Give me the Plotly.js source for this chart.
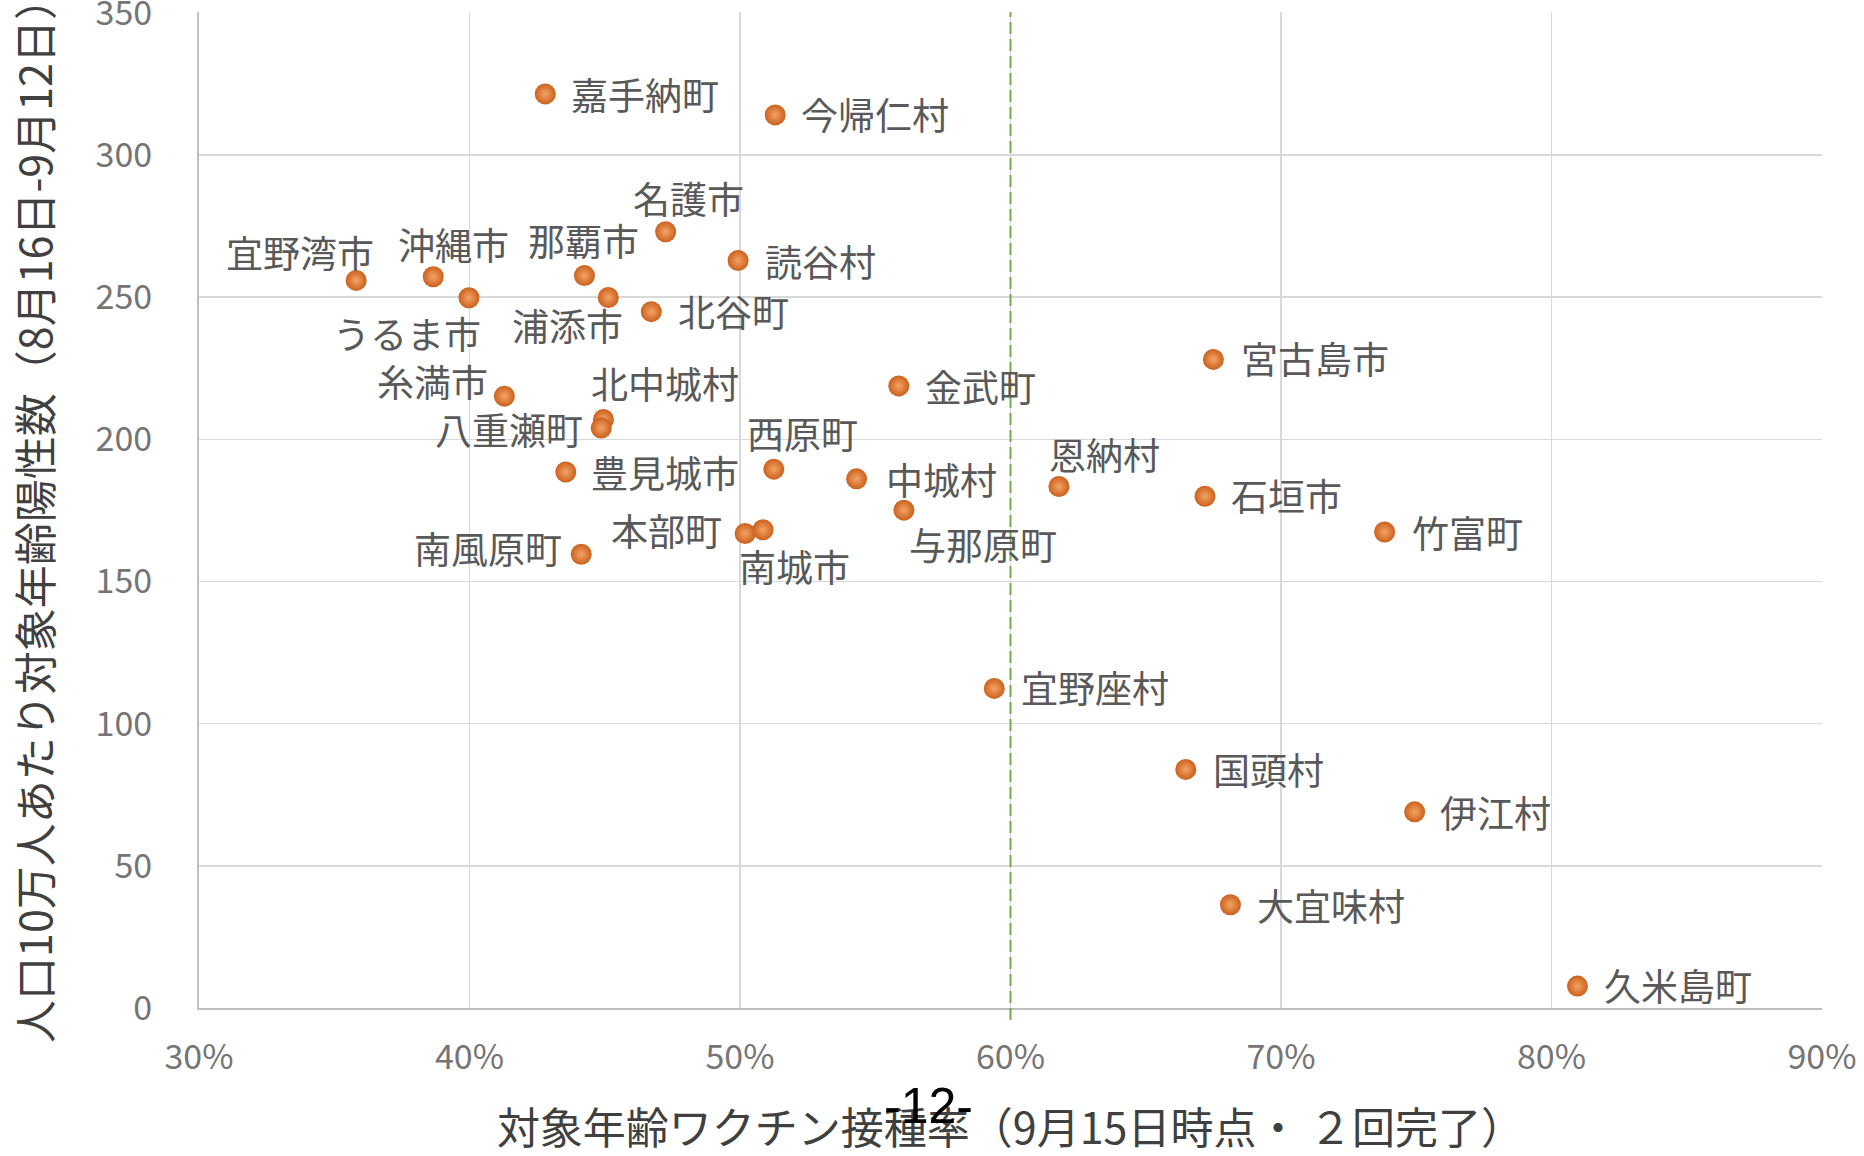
<!DOCTYPE html>
<html>
<head>
<meta charset="utf-8">
<script src="https://cdn.plot.ly/plotly-3.0.1.min.js"></script>
<style>
html,body{margin:0;padding:0;background:#fff;}
#chart{width:1864px;height:1156px;}
</style>
</head>
<body>
<div id="chart"></div>
<script>
// ---- data ----
const municipalities = ['嘉手納町','今帰仁村','名護市','読谷村','宜野湾市','沖縄市','うるま市','那覇市','浦添市','北谷町',
  '糸満市','北中城村','八重瀬町','金武町','宮古島市','豊見城市','西原町','中城村','恩納村','石垣市',
  '与那原町','竹富町','本部町','南城市','南風原町','宜野座村','国頭村','伊江村','大宜味村','久米島町'];
const vaccinationRate = [0.428,0.513,0.4725,0.4993,0.3581,0.3866,0.3998,0.4425,0.4513,0.4672,
  0.4129,0.4495,0.4487,0.5587,0.675,0.4356,0.5125,0.5431,0.6179,0.6719,
  0.5606,0.7383,0.5019,0.5085,0.4413,0.594,0.6648,0.7494,0.6813,0.8096];
const positivesPer100k = [321.5,314.1,273.0,262.9,255.9,257.2,249.8,257.6,249.9,244.9,
  215.2,207.0,204.0,218.8,228.1,188.5,189.5,186.1,183.4,180.0,
  175.1,167.4,166.9,168.2,159.6,112.4,83.9,69.0,36.3,7.7];
const xTickValues = [0.3,0.4,0.5,0.6,0.7,0.8,0.9];
const yTickValues = [0,50,100,150,200,250,300,350];
const targetRate = 0.6;
const xTitle = '対象年齢ワクチン接種率（9月15日時点・ ２回完了）';
const yTitle = '人口10万人あたり対象年齢陽性数（8月16日-9月12日）';
const pageMark = '-12-';

// ---- label placement (style: anchor side and pixel offsets from marker) ----
const labelPlacement = [
  ['R',24,0],['R',24,-1],['C',23,-34],['R',25,0],['C',-56,-28],['C',20,-33],['C',-62,35],['C',-1,-36],['C',-41,28],['R',25,-1],
  ['L',-14,-15],['C',62,-36],['L',-16,1],['R',24,0],['R',26,-1],['R',23,0],['C',29,-36],['R',27,0],['C',46,-33],['R',24,-1],
  ['C',79,34],['R',25,0],['L',-21,-3],['C',32,36],['L',-17,-6],['R',25,-1],['R',25,0],['R',23,0],['R',25,0],['R',25,-1]
];

const labelFont = {family:'Noto Sans CJK JP', size:37, color:'#595959'};

const annotations = municipalities.map((name,i)=>{
  const p = labelPlacement[i];
  return {
    x: vaccinationRate[i], y: positivesPer100k[i], xref:'x', yref:'y',
    text: name, showarrow:false,
    xanchor: p[0]==='R' ? 'left' : (p[0]==='L' ? 'right' : 'center'),
    yanchor: 'middle',
    xshift: p[1], yshift: -p[2],
    font: labelFont
  };
});
annotations.push({
  xref:'paper', yref:'paper', x:0.5, y:0, xanchor:'center', yanchor:'middle',
  xshift: 928 - (199 + 1623/2), yshift: -(1106 - 1008),
  text: pageMark, showarrow:false,
  font:{family:'Liberation Sans Narrow, Liberation Sans, Arial', size:50, color:'#000000'}
});

const trace = {
  type:'scatter', mode:'markers',
  x: vaccinationRate, y: positivesPer100k, text: municipalities,
  marker:{
    size:21, color:'#CC601C',
    gradient:{type:'radial', color:'#F3A466'},
    line:{width:0}
  },
  hoverinfo:'text+x+y',
  cliponaxis:false
};

const layout = {
  width:1864, height:1156,
  margin:{l:199, r:42, t:12, b:148},
  paper_bgcolor:'#ffffff', plot_bgcolor:'#ffffff',
  showlegend:false,
  font:{family:'Noto Sans CJK JP', color:'#595959'},
  xaxis:{
    range:[0.3,0.9], tickvals:xTickValues, tickformat:'.0%',
    showgrid:true, gridcolor:'#D9D9D9', gridwidth:1.5,
    showline:true, linecolor:'#BFBFBF', linewidth:2,
    zeroline:false, ticks:'',
    ticklabelstandoff:18, ticklabeloverflow:'allow',
    tickfont:{family:'Noto Sans CJK JP', size:34, color:'#757575'},
    title:{text:xTitle, font:{family:'Noto Sans CJK JP', size:43, color:'#404040'}, standoff:40}
  },
  yaxis:{
    range:[0,350.3], tickvals:yTickValues,
    showgrid:true, gridcolor:'#D9D9D9', gridwidth:1.5,
    showline:true, linecolor:'#BFBFBF', linewidth:2,
    zeroline:false, ticks:'',
    ticklabelstandoff:38, ticklabeloverflow:'allow',
    tickfont:{family:'Noto Sans CJK JP', size:34, color:'#757575'},
    title:{text:yTitle, font:{family:'Noto Sans CJK JP', size:43, color:'#404040'}, standoff:30}
  },
  shapes:[{
    type:'line', xref:'x', yref:'paper', x0:targetRate, x1:targetRate, y0:-0.012, y1:1,
    line:{color:'#70AD47', width:2, dash:'12px,5px'}, layer:'above'
  }],
  annotations: annotations
};

Plotly.newPlot('chart',[trace],layout,{displayModeBar:false, staticPlot:true});
</script>
</body>
</html>
